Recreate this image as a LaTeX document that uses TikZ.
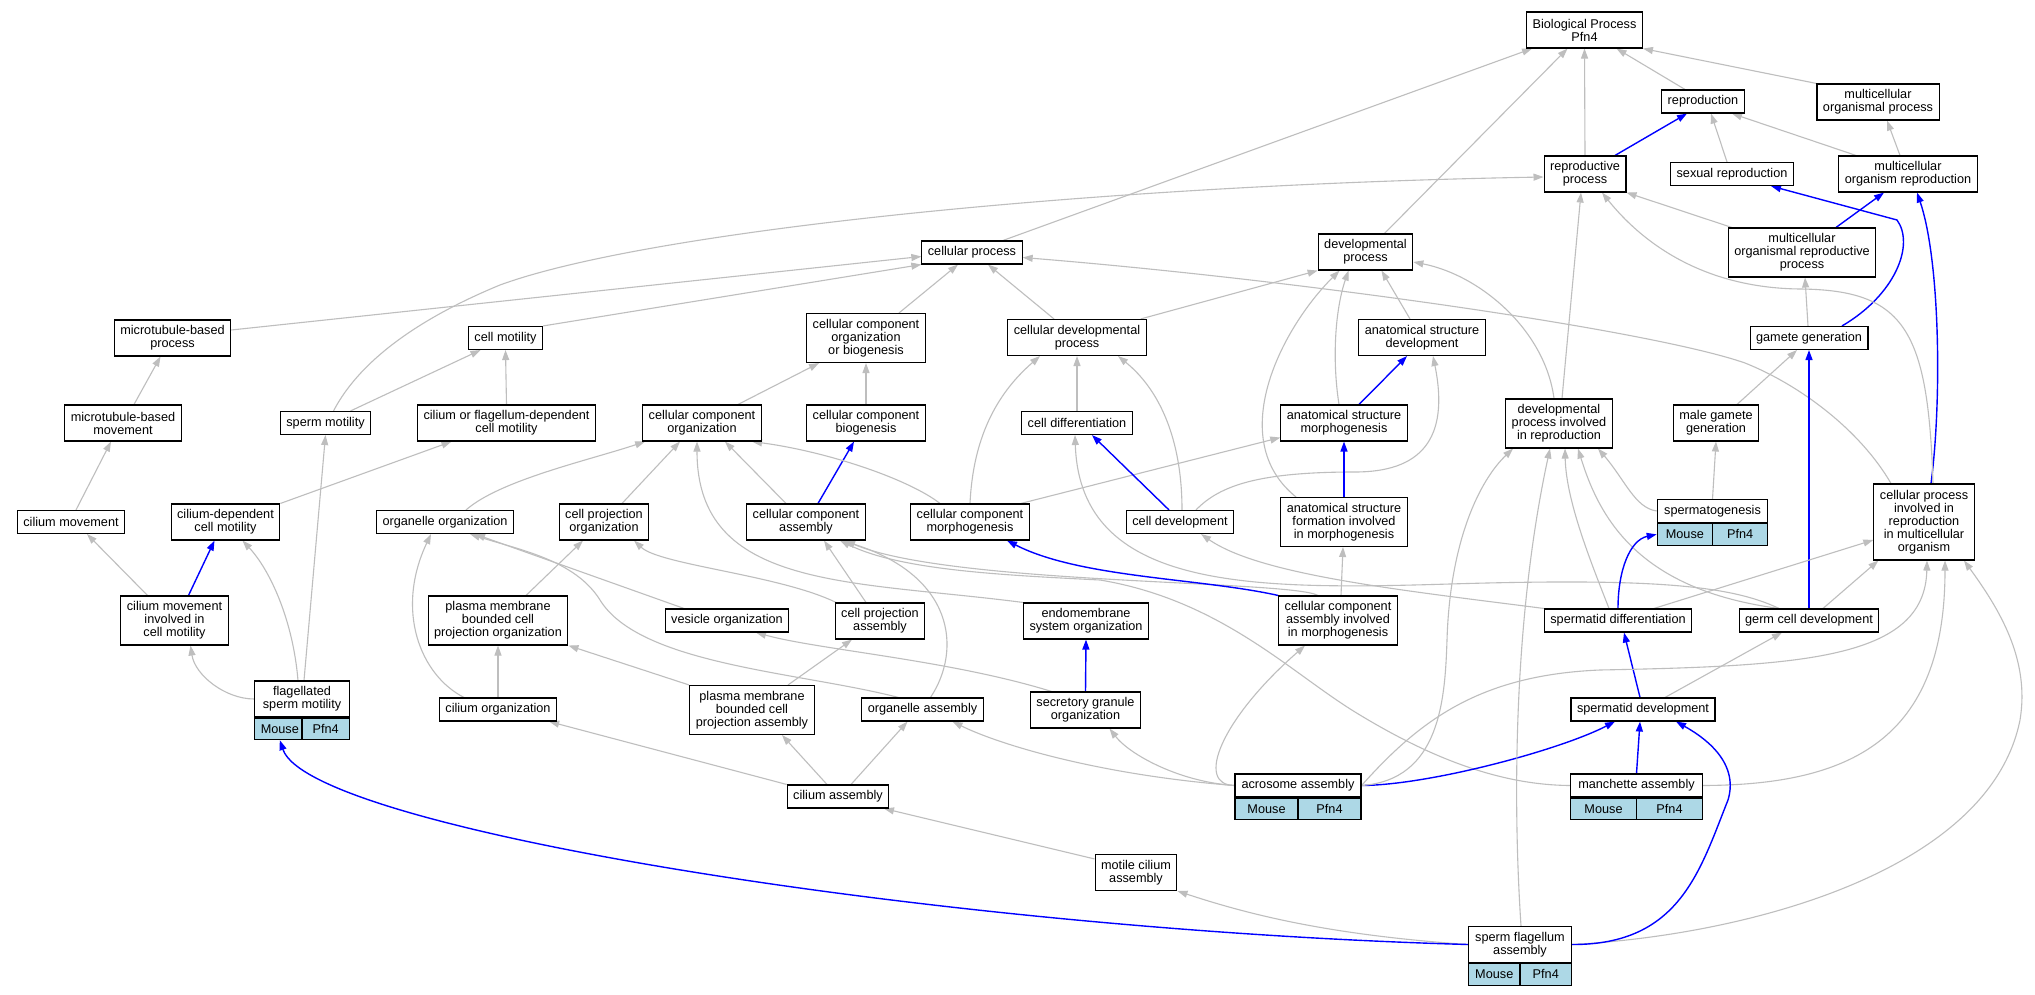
\documentclass[tikz,border=0pt]{standalone}
\usepackage{fontspec}
\setmainfont{Liberation Sans}
\usetikzlibrary{arrows.meta,backgrounds}
\definecolor{edgegray}{HTML}{BEBEBE}
\definecolor{lightblue}{HTML}{ADD8E6}

\begin{document}
\begin{tikzpicture}[x=1pt, y=-1pt,
  term/.style={draw=black, line width=1.1pt, fill=white, align=center,
    inner xsep=6pt, inner ysep=0pt, minimum height=23pt,
    font=\fontsize{12.7}{13}\selectfont},
  term2/.style={term, minimum height=36pt},
  term3/.style={term, minimum height=49pt},
  term5/.style={term, minimum height=76pt},
  cell/.style={term, fill=lightblue, minimum height=21.5pt, minimum width=#1},
  isa/.style={draw=edgegray, line width=1.1pt, -{Triangle[length=10pt,width=7pt]}},
  partof/.style={draw=blue, line width=1.4pt, -{Triangle[length=10pt,width=7pt]}}]
  \useasboundingbox (0,0) rectangle (2035,995);

  % Draw the terms, rank by rank
  \node[term2] (bp) at (1584.5,30) {Biological Process\\Pfn4};
  \node[term] (repro) at (1703,101.5) {reproduction};
  \node[term2] (mop) at (1878,102) {multicellular\\organismal process};
  \node[term2] (rp) at (1585,174) {reproductive\\process};
  \node[term] (sexr) at (1732,174) {sexual reproduction};
  \node[term2] (mor) at (1908,174) {multicellular\\organism reproduction};
  \node[term3] (morp) at (1802,252.5) {multicellular\\organismal reproductive\\process};
  \node[term2] (dev) at (1365.5,252) {developmental\\process};
  \node[term] (cp) at (972,252.5) {cellular process};
  \node[term3] (ccob) at (866,338) {cellular component\\organization\\or biogenesis};
  \node[term2] (cdp) at (1077,337.5) {cellular developmental\\process};
  \node[term2] (asd) at (1422,337.5) {anatomical structure\\development};
  \node[term] (gg) at (1809,338) {gamete generation};
  \node[term2] (mbp) at (172.5,338) {microtubule-based\\process};
  \node[term] (cm) at (505.5,338) {cell motility};

  \node[term2] (mbm) at (123,423) {microtubule-based\\movement};
  \node[term] (sm) at (325.5,423) {sperm motility};
  \node[term2] (cfdcm) at (506.5,423) {cilium or flagellum-dependent\\cell motility};
  \node[term2] (cco) at (702,423) {cellular component\\organization};
  \node[term2] (ccb) at (866,423) {cellular component\\biogenesis};
  \node[term] (cdiff) at (1077,423) {cell differentiation};
  \node[term2] (asm) at (1344,423) {anatomical structure\\morphogenesis};
  \node[term3] (dpir) at (1559,423.5) {developmental\\process involved\\in reproduction};
  \node[term2] (mgg) at (1716,423) {male gamete\\generation};

  \node[term] (cmov) at (71,522) {cilium movement};
  \node[term2] (cdcm) at (225.5,522) {cilium-dependent\\cell motility};
  \node[term] (oo) at (445,522) {organelle organization};
  \node[term2] (cpo) at (604,522) {cell projection\\organization};
  \node[term2] (cca) at (806,522) {cellular component\\assembly};
  \node[term2] (ccm) at (970,522) {cellular component\\morphogenesis};
  \node[term] (cdev) at (1180,522) {cell development};
  \node[term3] (asfim) at (1344,522) {anatomical structure\\formation involved\\in morphogenesis};
  \node[term, minimum width=110.5pt] (sgen) at (1712.5,511) {spermatogenesis};
  \node[cell=55.25pt, anchor=north west] (sgenM) at (sgen.south west) {Mouse};
  \node[cell=55.25pt, anchor=north east] (sgenP) at (sgen.south east) {Pfn4};
  \node[term5] (cpirmo) at (1924,522) {cellular process\\involved in\\reproduction\\in multicellular\\organism};

  \node[term3] (cmicm) at (174.5,620.5) {cilium movement\\involved in\\cell motility};
  \node[term3] (pmbcpo) at (498,620.5) {plasma membrane\\bounded cell\\projection organization};
  \node[term] (vo) at (727,620.5) {vesicle organization};
  \node[term2] (cpa) at (880,621) {cell projection\\assembly};
  \node[term2] (eso) at (1086,621) {endomembrane\\system organization};
  \node[term3] (ccaim) at (1338,620.5) {cellular component\\assembly involved\\in morphogenesis};
  \node[term] (sdiff) at (1618,620.5) {spermatid differentiation};
  \node[term] (gcd) at (1809,620.5) {germ cell development};

  \node[term2, minimum width=94.5pt] (fsm) at (302,699) {flagellated\\sperm motility};
  \node[cell=47.25pt, anchor=north west] (fsmM) at (fsm.south west) {Mouse};
  \node[cell=47.25pt, anchor=north east] (fsmP) at (fsm.south east) {Pfn4};
  \node[term] (co) at (498,709.5) {cilium organization};
  \node[term3] (pmbcpa) at (752,710) {plasma membrane\\bounded cell\\projection assembly};
  \node[term] (oa) at (922.5,709.5) {organelle assembly};
  \node[term2] (sgo) at (1085.5,710) {secretory granule\\organization};
  \node[term] (sdev) at (1643,709.5) {spermatid development};

  \node[term] (ca) at (838,796.5) {cilium assembly};
  \node[term, minimum width=126pt] (acro) at (1298,785.5) {acrosome assembly};
  \node[cell=63pt, anchor=north west] (acroM) at (acro.south west) {Mouse};
  \node[cell=63pt, anchor=north east] (acroP) at (acro.south east) {Pfn4};
  \node[term, minimum width=132pt] (manch) at (1636.5,785.5) {manchette assembly};
  \node[cell=66pt, anchor=north west] (manchM) at (manch.south west) {Mouse};
  \node[cell=66pt, anchor=north east] (manchP) at (manch.south east) {Pfn4};
  \node[term2] (mca) at (1136,872.5) {motile cilium\\assembly};
  \node[term2, minimum width=103pt] (sfa) at (1520,944.5) {sperm flagellum\\assembly};
  \node[cell=51.5pt, anchor=north west] (sfaM) at (sfa.south west) {Mouse};
  \node[cell=51.5pt, anchor=north east] (sfaP) at (sfa.south east) {Pfn4};

  \begin{scope}[on background layer]
  \fill[white] (0,0) rectangle (2035,995);

  % Draw the edges to the top terms
  \draw[isa] ([xshift=-18pt]repro.north) -- ([xshift=32pt]bp.south);
  \draw[isa] (mop.north west) -- (bp.south east);
  \draw[isa] (rp.north) -- (bp.south);
  \draw[isa] ([xshift=19pt]dev.north) -- ([xshift=-17pt]bp.south);
  \draw[isa] ([xshift=31pt]cp.north) -- ([xshift=6pt]bp.south west);
  \draw[isa] ([xshift=-5pt]sexr.north) -- ([xshift=8pt]repro.south);
  \draw[isa] ([xshift=-52pt]mor.north) -- ([xshift=29pt]repro.south);
  \draw[isa] ([xshift=-8pt]mor.north) -- ([xshift=9pt]mop.south);
  \draw[partof] ([xshift=30pt]rp.north) -- ([xshift=-16pt]repro.south);
  \draw[isa] ([xshift=4pt]morp.north west) -- (rp.south east);
  \draw[partof] ([xshift=34pt]morp.north) -- ([xshift=-24pt]mor.south);
  \draw[isa] ([xshift=-1pt]gg.north) -- ([xshift=3pt]morp.south);
  \draw[partof] ([xshift=33pt]gg.north) .. controls (1895,295) and (1915,245) .. (1897,220) -- ([xshift=39pt]sexr.south);
  \draw[partof] ([xshift=7pt]cpirmo.north) .. controls (1942,400) and (1940,260) .. ([xshift=9pt]mor.south);
  \draw[isa] ([xshift=9pt]cpirmo.north) .. controls (1928,330) and (1905,290) .. (1800,289) .. controls (1700,288) and (1640,240) .. ([xshift=17pt]rp.south);
  \draw[isa] ([xshift=3pt]dpir.north) -- ([xshift=-4pt]rp.south);
  \draw[isa] ([xshift=-5pt]dpir.north) .. controls (1545,330) and (1480,275) .. ([yshift=-10pt]dev.east);
  \draw[isa] ([xshift=-6pt]cdp.north east) -- (dev.south west);
  \draw[isa] ([xshift=-12pt]asd.north) -- ([xshift=16pt]dev.south);
  \draw[isa] ([xshift=-5pt]asm.north) .. controls (1332,360) and (1335,310) .. ([xshift=-17pt]dev.south);
  \draw[isa] ([xshift=-48pt]asfim.north) .. controls (1225,440) and (1280,330) .. ([xshift=-26pt]dev.south);

  % Edges to cellular process
  \draw[isa] ([yshift=8pt]mbp.east) -- ([yshift=-4pt]cp.west);
  \draw[isa] (cm.north east) -- (cp.south west);
  \draw[isa] ([xshift=33pt]ccob.north) -- ([xshift=-14pt]cp.south);
  \draw[isa] ([xshift=-23pt]cdp.north) -- ([xshift=16pt]cp.south);
  \draw[isa] ([xshift=-33pt]cpirmo.north) .. controls (1860,430) and (1800,385) .. (1745,363) .. controls (1650,330) and (1300,280) .. ([yshift=-5pt]cp.east);

  % Motility side
  \draw[isa] ([xshift=11pt]mbm.north) -- ([xshift=-12pt]mbp.south);
  \draw[isa] ([xshift=25pt]sm.north) -- ([xshift=-25pt]cm.south);
  \draw[isa] ([xshift=8pt]sm.north) .. controls (360,360) and (420,318) .. (500,285) .. controls (650,230) and (1100,185) .. ([yshift=-3pt]rp.west);
  \draw[isa] (cfdcm.north) -- (cm.south);
  \draw[isa] ([xshift=5pt]cmov.north) -- ([xshift=-12pt]mbm.south);
  \draw[isa] (cdcm.north east) -- ([xshift=-55pt]cfdcm.south);
  \draw[isa] ([xshift=-27pt]cmicm.north) -- ([xshift=16pt]cmov.south);
  \draw[partof] ([xshift=14pt]cmicm.north) -- ([xshift=-11pt]cdcm.south);
  \draw[isa] (fsm.west) .. controls (225,699) and (195,675) .. ([xshift=16pt]cmicm.south);
  \draw[isa] ([xshift=-4pt]fsm.north) .. controls (293,620) and (270,570) .. ([xshift=17pt]cdcm.south);
  \draw[isa] ([xshift=2pt]fsm.north) -- (sm.south);

  % Organization and assembly
  \draw[isa] ([xshift=28pt]pmbcpo.north) -- ([xshift=-21pt]cpo.south);
  \draw[isa] (co.north) -- (pmbcpo.south);
  \draw[isa] ([xshift=-34pt]co.north) .. controls (420,675) and (395,610) .. ([xshift=-14pt]oo.south);
  \draw[isa] ([xshift=-43pt]vo.north) -- ([xshift=30pt]oo.south);
  \draw[isa] ([xshift=-24pt]oa.north) .. controls (800,672) and (640,665) .. (600,600) .. controls (575,560) and (520,550) .. ([xshift=25pt]oo.south);
  \draw[isa] ([xshift=-63pt]pmbcpa.north) -- (pmbcpo.south east);
  \draw[isa] ([xshift=36pt]pmbcpa.north) -- ([xshift=-28pt]cpa.south);
  \draw[isa] ([xshift=-11pt]ca.north) -- ([xshift=30pt]pmbcpa.south);
  \draw[isa] ([xshift=13pt]ca.north) -- ([xshift=-15pt]oa.south);
  \draw[isa] (ca.north west) -- ([xshift=-8pt]co.south east);
  \draw[isa] ([yshift=-5pt]mca.north west) -- ([xshift=46pt]ca.south);
  \draw[isa] (sfa.west) .. controls (1330,935) and (1250,915) .. (mca.south east);
  \draw[partof] (sfa.west) .. controls (950,930) and (310,830) .. (fsmM.south);

  \draw[isa] ([xshift=36pt]cco.north) -- ([xshift=-47pt]ccob.south);
  \draw[isa] (ccb.north) -- (ccob.south);
  \draw[partof] ([xshift=12pt]cca.north) -- ([xshift=-12pt]ccb.south);
  \draw[isa] ([xshift=21pt]oo.north) .. controls (500,480) and (590,460) .. ([xshift=3pt]cco.south west);
  \draw[isa] ([xshift=18pt]cpo.north) -- ([xshift=-22pt]cco.south);
  \draw[isa] ([xshift=-20pt]cca.north) -- ([xshift=23pt]cco.south);
  \draw[isa] ([xshift=-30pt]ccm.north) .. controls (910,480) and (830,452) .. ([xshift=50pt]cco.south);
  \draw[isa] (eso.north west) .. controls (850,580) and (697,590) .. ([xshift=-5pt]cco.south);
  \draw[isa] ([xshift=-44pt]cpa.north) .. controls (780,575) and (660,565) .. ([xshift=30pt]cpo.south);
  \draw[isa] ([xshift=-14pt]cpa.north) -- ([xshift=18pt]cca.south);
  \draw[isa] ([xshift=8pt]oa.north) .. controls (962,650) and (955,575) .. ([xshift=36pt]cca.south);
  \draw[isa] (manch.west) .. controls (1500,785) and (1430,758) .. (1355,712) .. controls (1290,672) and (1220,600) .. (1100,580) .. controls (1000,575) and (900,570) .. ([xshift=34pt]cca.south);
  \draw[isa] ([xshift=-20pt]ccaim.north) .. controls (1290,580) and (950,585) .. ([xshift=39pt]cca.south);
  \draw[partof] (ccaim.north west) .. controls (1200,578) and (1080,578) .. ([xshift=37pt]ccm.south);

  % Development
  \draw[isa] ([xshift=-9pt]ccm.north east) -- ([yshift=4pt]asm.south west);
  \draw[isa] (ccm.north) .. controls (973,440) and (995,395) .. ([xshift=-37pt]cdp.south);
  \draw[isa] (cdiff.north) -- (cdp.south);
  \draw[isa] ([xshift=2pt]cdev.north) .. controls (1182,440) and (1160,390) .. ([xshift=41pt]cdp.south);
  \draw[partof] ([xshift=-11pt]cdev.north) -- ([xshift=15pt]cdiff.south);
  \draw[isa] ([xshift=16pt]cdev.north) .. controls (1220,485) and (1260,472) .. (1355,472) .. controls (1420,472) and (1450,440) .. ([xshift=11pt]asd.south);
  \draw[isa] ([xshift=-30pt]gcd.north) .. controls (1730,585) and (1650,578) .. (1450,584) .. controls (1250,590) and (1080,590) .. ([xshift=-2pt]cdiff.south);
  \draw[isa] (sdiff.north west) .. controls (1400,590) and (1260,575) .. ([xshift=21pt]cdev.south);
  \draw[partof] ([xshift=15pt]asm.north) -- ([xshift=-15pt]asd.south);
  \draw[partof] (asfim.north) -- (asm.south);
  \draw[isa] ([xshift=3pt]ccaim.north) -- ([xshift=-1pt]asfim.south);

  % Reproduction side
  \draw[isa] (sgen.north) -- (mgg.south);
  \draw[isa] ([xshift=21pt]mgg.north) -- ([xshift=-12pt]gg.south);
  \draw[partof] (gcd.north) -- (gg.south);
  \draw[isa] ([xshift=14pt]gcd.north) -- ([xshift=5pt]cpirmo.south west);
  \draw[isa] ([xshift=-30pt]gcd.north) .. controls (1640,590) and (1600,520) .. ([xshift=19pt]dpir.south);
  \draw[isa] ([xshift=-9pt]sdiff.north) .. controls (1590,560) and (1566,500) .. ([xshift=6pt]dpir.south);
  \draw[partof] (sdiff.north) .. controls (1618,570) and (1630,540) .. (sgenM.west);
  \draw[isa] ([xshift=36pt]sdiff.north) -- ([yshift=-18pt]cpirmo.west);
  \draw[isa] (sgen.west) .. controls (1635,508) and (1625,480) .. ([xshift=39pt]dpir.south);
  \draw[partof] ([xshift=-3pt]sdev.north) -- ([xshift=6pt]sdiff.south);
  \draw[isa] ([xshift=22pt]sdev.north) -- ([xshift=-27pt]gcd.south);
  \draw[partof] (manch.north) -- ([xshift=-3pt]sdev.south);
  \draw[isa] (manch.east) .. controls (1850,785) and (1945,740) .. ([xshift=21pt]cpirmo.south);

  % Acrosome and flagellum
  \draw[partof] (acro.east) .. controls (1430,785) and (1560,750) .. ([xshift=-28pt]sdev.south);
  \draw[isa] (acro.east) .. controls (1440,780) and (1445,700) .. (1447,640) .. controls (1450,540) and (1480,480) .. ([xshift=-46pt]dpir.south);
  \draw[isa] (acro.east) .. controls (1420,720) and (1480,675) .. (1600,670) .. controls (1800,666) and (1925,660) .. ([xshift=3pt]cpirmo.south);
  \draw[isa] (acro.west) .. controls (1100,775) and (1000,745) .. ([xshift=30pt]oa.south);
  \draw[isa] (acro.west) .. controls (1180,782) and (1130,755) .. ([xshift=24pt]sgo.south);
  \draw[isa] (acro.west) .. controls (1195,785) and (1220,720) .. ([xshift=-33pt]ccaim.south);
  \draw[partof] (sgo.north) -- (eso.south);
  \draw[isa] ([xshift=-34pt]sgo.north) .. controls (950,660) and (820,650) .. ([xshift=29pt]vo.south);
  \draw[isa] ([xshift=1pt]sfa.north) .. controls (1512,790) and (1515,610) .. ([xshift=-9pt]dpir.south);
  \draw[isa] (sfa.east) .. controls (1750,935) and (1990,870) .. (2020,720) .. controls (2030,660) and (2000,610) .. ([xshift=40pt]cpirmo.south);
  \draw[partof] (sfa.east) .. controls (1680,945) and (1700,870) .. (1728,800) .. controls (1740,760) and (1700,735) .. ([xshift=33pt]sdev.south);
  \end{scope}
\end{tikzpicture}
\end{document}
